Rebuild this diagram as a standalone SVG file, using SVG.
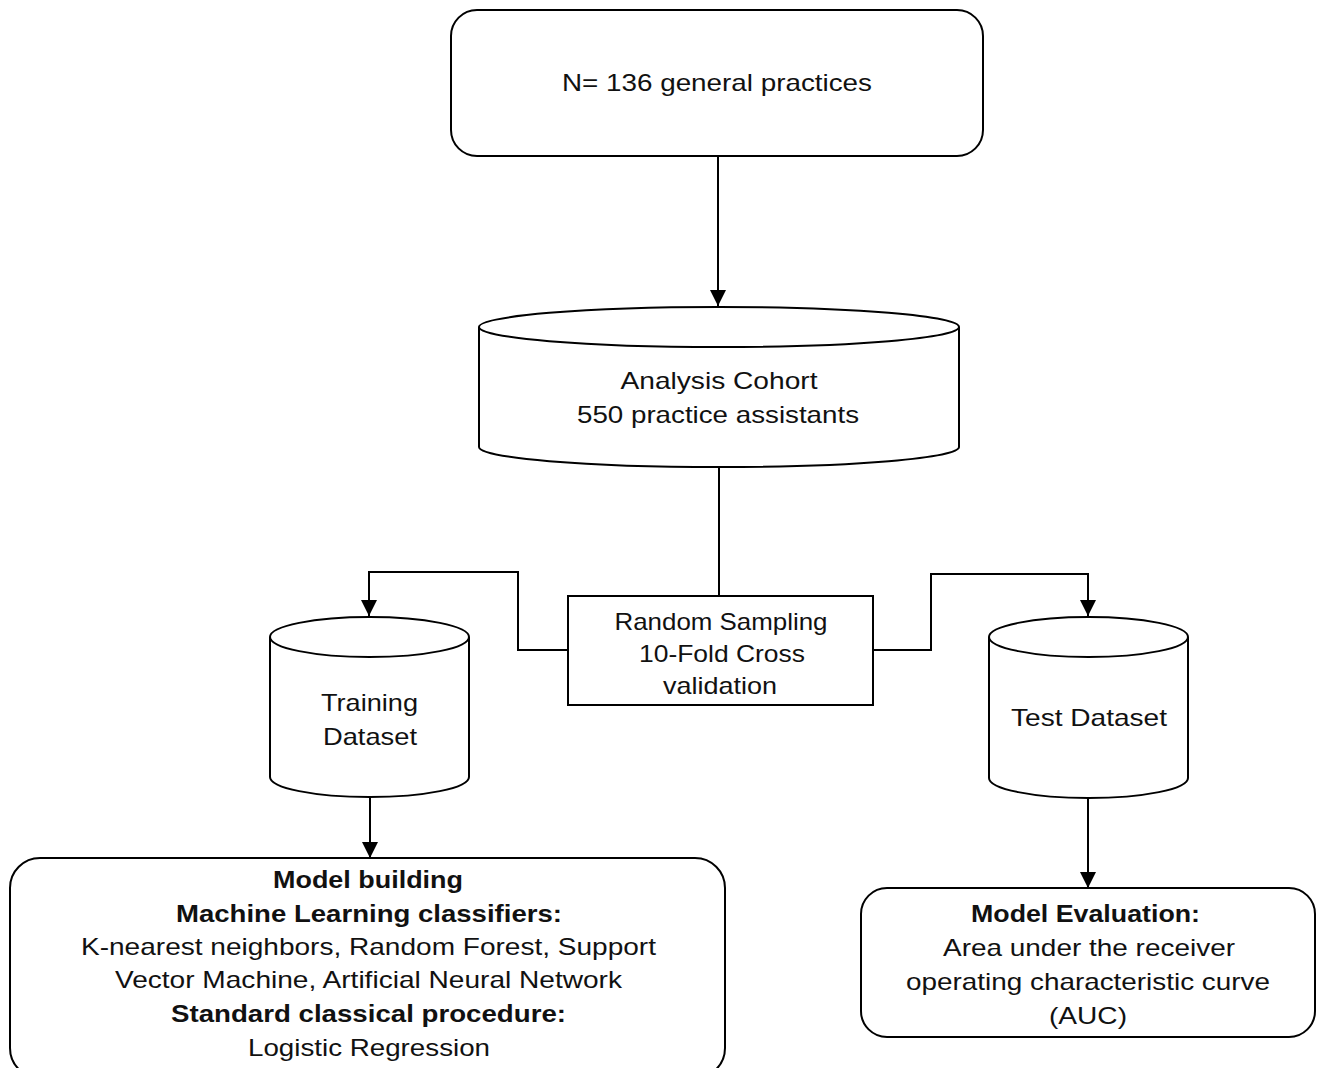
<svg xmlns="http://www.w3.org/2000/svg" width="1322" height="1068" viewBox="0 0 1322 1068">
<defs>
<style>
.s{fill:#fff;stroke:#000;stroke-width:2}
.c{fill:none;stroke:#000;stroke-width:2}
text{font-family:"Liberation Sans",Arial,sans-serif;font-size:24px;fill:#111;text-anchor:middle}
.b{font-weight:bold}
</style>
<marker id="ah" viewBox="0 0 10 10" refX="10" refY="5" markerWidth="16" markerHeight="16" markerUnits="userSpaceOnUse" orient="auto">
<path d="M0,0 L10,5 L0,10 z" fill="#000"/>
</marker>
</defs>
<rect width="1322" height="1068" fill="#fff"/>
<g id="connectors">
<line class="c" x1="718" y1="156" x2="718" y2="306" marker-end="url(#ah)"/>
<line class="c" x1="719" y1="467" x2="719" y2="596"/>
<polyline class="c" points="568,650 518,650 518,572 369,572 369,616" marker-end="url(#ah)"/>
<polyline class="c" points="873,650 931,650 931,574 1088,574 1088,616" marker-end="url(#ah)"/>
<line class="c" x1="370" y1="797" x2="370" y2="858" marker-end="url(#ah)"/>
<line class="c" x1="1088" y1="798" x2="1088" y2="888" marker-end="url(#ah)"/>
</g>
<g id="practices">
<rect class="s" x="451" y="10" width="532" height="146" rx="26"/>
<text x="717" y="91" textLength="310" lengthAdjust="spacingAndGlyphs">N= 136 general  practices</text>
</g>
<g id="cohort">
<path class="s" d="M479,327 L479,447 A240,20 0 0 0 959,447 L959,327"/>
<ellipse class="s" cx="719" cy="327" rx="240" ry="20"/>
<text x="719" y="389" textLength="197" lengthAdjust="spacingAndGlyphs">Analysis  Cohort</text>
<text x="718" y="423" textLength="282" lengthAdjust="spacingAndGlyphs">550 practice assistants</text>
</g>
<g id="sampling">
<rect class="s" x="568" y="596" width="305" height="109"/>
<text x="721" y="630" textLength="213" lengthAdjust="spacingAndGlyphs">Random Sampling</text>
<text x="722" y="662" textLength="166" lengthAdjust="spacingAndGlyphs">10-Fold Cross</text>
<text x="720" y="694" textLength="114" lengthAdjust="spacingAndGlyphs">validation</text>
</g>
<g id="training">
<path class="s" d="M270,637 L270,777 A99.5,20 0 0 0 469,777 L469,637"/>
<ellipse class="s" cx="369.5" cy="637" rx="99.5" ry="20"/>
<text x="369.5" y="711" textLength="97" lengthAdjust="spacingAndGlyphs">Training</text>
<text x="370" y="745" textLength="94" lengthAdjust="spacingAndGlyphs">Dataset</text>
</g>
<g id="test">
<path class="s" d="M989,637 L989,778 A99.5,20 0 0 0 1188,778 L1188,637"/>
<ellipse class="s" cx="1088.5" cy="637" rx="99.5" ry="20"/>
<text x="1089" y="726" textLength="156" lengthAdjust="spacingAndGlyphs">Test Dataset</text>
</g>
<g id="building">
<rect class="s" x="10" y="858" width="715" height="220" rx="30"/>
<text x="368" y="888" class="b" textLength="190" lengthAdjust="spacingAndGlyphs">Model  building</text>
<text x="369" y="922" class="b" textLength="386" lengthAdjust="spacingAndGlyphs">Machine  Learning  classifiers:</text>
<text x="368.5" y="955" textLength="575" lengthAdjust="spacingAndGlyphs">K-nearest neighbors,  Random Forest, Support</text>
<text x="368.5" y="988" textLength="507" lengthAdjust="spacingAndGlyphs">Vector Machine,  Artificial Neural  Network</text>
<text x="368.5" y="1022" class="b" textLength="395" lengthAdjust="spacingAndGlyphs">Standard  classical  procedure:</text>
<text x="369" y="1056" textLength="242" lengthAdjust="spacingAndGlyphs">Logistic Regression</text>
</g>
<g id="evaluation">
<rect class="s" x="861" y="888" width="454" height="149" rx="26"/>
<text x="1085.5" y="922" class="b" textLength="229" lengthAdjust="spacingAndGlyphs">Model  Evaluation:</text>
<text x="1089" y="956" textLength="292" lengthAdjust="spacingAndGlyphs">Area under  the receiver</text>
<text x="1088" y="990" textLength="364" lengthAdjust="spacingAndGlyphs">operating  characteristic  curve</text>
<text x="1088" y="1024" textLength="78" lengthAdjust="spacingAndGlyphs">(AUC)</text>
</g>
</svg>
